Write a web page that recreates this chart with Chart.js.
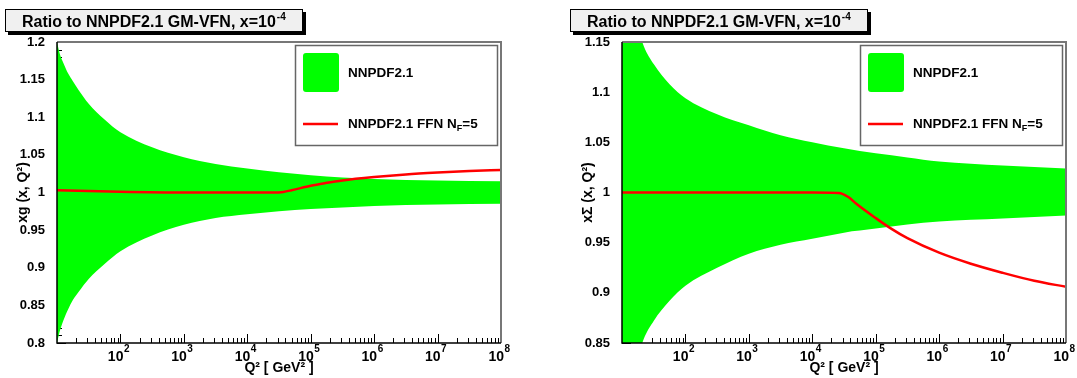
<!DOCTYPE html>
<html>
<head>
<meta charset="utf-8">
<script src="https://cdn.jsdelivr.net/npm/chart.js@4"></script>
<style>
  body { margin: 0; background: #fff; width: 1077px; height: 378px; overflow: hidden; position: relative; }
  canvas { position: absolute; top: 0; }
  #gluonChart { left: 0; }
  #singletChart { left: 565px; }
</style>
</head>
<body>
<canvas id="gluonChart" width="512" height="378"></canvas>
<canvas id="singletChart" width="512" height="378"></canvas>
<script>
// Q^2 grid (GeV^2) of the NNPDF2.1 uncertainty bands
const bandQ2 = [10, 11, 12.6, 15, 17.8, 22, 31.6, 56.2, 100, 316, 1e3, 3.16e3, 1e4, 3.16e4, 1e5, 3.16e5, 1e6, 1e7, 1e8];
const gluonUpper = [1.200, 1.185, 1.172, 1.158, 1.148, 1.136, 1.118, 1.097, 1.080, 1.060, 1.047, 1.038, 1.032, 1.027, 1.023, 1.020, 1.018, 1.016, 1.015];
const gluonLower = [0.800, 0.815, 0.830, 0.845, 0.857, 0.868, 0.885, 0.905, 0.922, 0.943, 0.957, 0.966, 0.971, 0.975, 0.978, 0.980, 0.982, 0.984, 0.985];
const singletUpper = [1.240, 1.225, 1.205, 1.185, 1.165, 1.146, 1.128, 1.108, 1.094, 1.078, 1.067, 1.057, 1.050, 1.044, 1.039, 1.035, 1.031, 1.027, 1.024];
const singletLower = [0.760, 0.775, 0.795, 0.815, 0.835, 0.854, 0.872, 0.892, 0.907, 0.925, 0.939, 0.948, 0.954, 0.960, 0.964, 0.968, 0.971, 0.974, 0.977];

// Q^2 grid of the FFN N_F=5 ratio curves
const ffnQ2 = [10, 100, 1e3, 1e4, 2.6e4, 3.7e4, 5e4, 1e5, 1.7e5, 3.16e5, 1e6, 3.16e6, 1e7, 3.16e7, 1e8];
const gluonFfn = [1.003, 1.001, 1.000, 1.000, 1.000, 1.0008, 1.003, 1.009, 1.0125, 1.016, 1.0205, 1.024, 1.0265, 1.0285, 1.030];
const singletFfn = [1.000, 1.000, 1.000, 1.000, 0.9995, 0.9955, 0.9885, 0.9745, 0.9645, 0.9545, 0.940, 0.929, 0.920, 0.912, 0.906];

// axis ticks
const xTickExponents = [2, 3, 4, 5, 6, 7, 8];
const gluonYTicks = [0.8, 0.85, 0.9, 0.95, 1, 1.05, 1.1, 1.15, 1.2];
const singletYTicks = [0.85, 0.9, 0.95, 1, 1.05, 1.1, 1.15];

const titleText = 'Ratio to NNPDF2.1 GM-VFN, x=10';
const titleExp = '-4';
const bandLabel = 'NNPDF2.1';
const ffnLabel = ['NNPDF2.1 FFN N', 'F', '=5'];

const FONT = '"Liberation Sans", Arial, Helvetica, sans-serif';
const GREEN = '#00ff00';
const RED = '#ff0000';

function pts(xs, ys) {
    return xs.map((x, i) => ({ x: x, y: ys[i] }));
}

// ROOT-like frame, ticks, title box and legend
const rootStyle = {
    id: 'rootStyle',
    beforeDatasetsDraw(chart) {
        const ctx = chart.ctx;
        const a = chart.chartArea;
        const xs = chart.scales.x, ys = chart.scales.y;
        ctx.save();
        ctx.strokeStyle = '#000';
        ctx.lineWidth = 1;
        // x ticks, drawn inside the frame
        for (let k = 1; k < 8; k++) {
            for (let m = 1; m <= 9; m++) {
                const v = m * Math.pow(10, k);
                if (v <= xs.min || v >= xs.max) continue;
                const px = Math.round(xs.getPixelForValue(v)) + 0.5;
                const len = m === 1 ? 9 : 5;
                ctx.beginPath();
                ctx.moveTo(px, a.bottom);
                ctx.lineTo(px, a.bottom - len);
                ctx.stroke();
            }
        }
        // y ticks
        for (let i = Math.round(ys.min * 100); i <= Math.round(ys.max * 100); i++) {
            const py = Math.round(ys.getPixelForValue(i / 100)) + 0.5;
            const len = i % 5 === 0 ? 9 : 5;
            ctx.beginPath();
            ctx.moveTo(a.left, py);
            ctx.lineTo(a.left + len, py);
            ctx.stroke();
        }
        ctx.restore();
    },
    afterDatasetsDraw(chart) {
        const ctx = chart.ctx;
        const a = chart.chartArea;
        ctx.save();
        ctx.lineWidth = 2;
        ctx.strokeStyle = '#777';
        ctx.beginPath();
        ctx.moveTo(a.left, a.top);
        ctx.lineTo(a.right, a.top);
        ctx.lineTo(a.right, a.bottom);
        ctx.stroke();
        ctx.strokeStyle = '#000';
        ctx.lineWidth = 1.5;
        ctx.beginPath();
        ctx.moveTo(a.left, a.top);
        ctx.lineTo(a.left, a.bottom);
        ctx.lineTo(a.right, a.bottom);
        ctx.stroke();
        ctx.restore();
    },
    afterDraw(chart) {
        const ctx = chart.ctx;
        const xs = chart.scales.x;
        ctx.save();
        ctx.fillStyle = '#000';
        ctx.textBaseline = 'alphabetic';

        // x tick labels 10^k
        xTickExponents.forEach(k => {
            const px = xs.getPixelForValue(Math.pow(10, k));
            ctx.font = 'bold 14px ' + FONT;
            const wb = ctx.measureText('10').width;
            ctx.font = 'bold 10px ' + FONT;
            const we = ctx.measureText(String(k)).width;
            const x0 = px - 2 - (wb + we) / 2;
            ctx.font = 'bold 14px ' + FONT;
            ctx.textAlign = 'left';
            ctx.fillText('10', x0, 361);
            ctx.font = 'bold 10px ' + FONT;
            ctx.fillText(String(k), x0 + wb + 0.5, 352);
        });

        // title box with shadow
        ctx.fillStyle = '#000';
        ctx.fillRect(8, 12, 298, 23);
        ctx.fillStyle = '#f0f0f0';
        ctx.fillRect(5, 9, 298, 23);
        ctx.strokeStyle = '#000';
        ctx.lineWidth = 1;
        ctx.strokeRect(5.5, 9.5, 297, 22);
        ctx.fillStyle = '#000';
        ctx.font = 'bold 16px ' + FONT;
        ctx.textAlign = 'left';
        ctx.fillText(titleText, 22, 27);
        const tw = ctx.measureText(titleText).width;
        ctx.font = 'bold 10px ' + FONT;
        ctx.fillText(titleExp, 22 + tw + 1, 20);

        // legend
        const lx = 295, ly = 45, lw = 202, lh = 100;
        ctx.fillStyle = '#fff';
        ctx.fillRect(lx, ly, lw, lh);
        ctx.strokeStyle = '#666';
        ctx.lineWidth = 1.5;
        ctx.strokeRect(lx + 0.5, ly + 0.5, lw, lh);
        ctx.fillStyle = GREEN;
        ctx.beginPath();
        ctx.roundRect(303, 53, 36, 39, 3);
        ctx.fill();
        ctx.strokeStyle = RED;
        ctx.lineWidth = 2.5;
        ctx.beginPath();
        ctx.moveTo(303, 124);
        ctx.lineTo(338, 124);
        ctx.stroke();
        ctx.fillStyle = '#000';
        ctx.font = 'bold 13.5px ' + FONT;
        ctx.textBaseline = 'middle';
        ctx.fillText(bandLabel, 348, 73);
        ctx.fillText(ffnLabel[0], 348, 124);
        let cx = 348 + ctx.measureText(ffnLabel[0]).width;
        ctx.font = 'bold 9px ' + FONT;
        ctx.fillText(ffnLabel[1], cx, 129);
        cx += ctx.measureText(ffnLabel[1]).width;
        ctx.font = 'bold 13.5px ' + FONT;
        ctx.fillText(ffnLabel[2], cx, 124);
        ctx.restore();
    }
};

function makeChart(id, upper, lower, ffn, yTicks, yTitle) {
    const ctx = document.getElementById(id).getContext('2d');
    return new Chart(ctx, {
        type: 'line',
        data: {
            datasets: [{
                label: 'upper',
                data: pts(bandQ2, upper),
                order: 2,
                borderWidth: 0,
                pointRadius: 0,
                backgroundColor: GREEN,
                borderColor: GREEN,
                fill: '+1',
                cubicInterpolationMode: 'monotone'
            }, {
                label: 'lower',
                data: pts(bandQ2, lower),
                order: 3,
                borderWidth: 0,
                pointRadius: 0,
                borderColor: GREEN,
                fill: false,
                cubicInterpolationMode: 'monotone'
            }, {
                label: 'FFN',
                data: pts(ffnQ2, ffn),
                order: 1,
                borderWidth: 2.5,
                pointRadius: 0,
                borderColor: RED,
                fill: false,
                cubicInterpolationMode: 'monotone'
            }]
        },
        options: {
            responsive: false,
            animation: false,
            events: [],
            layout: { padding: { top: 42, right: 11, left: 0, bottom: 0 } },
            plugins: {
                legend: { display: false },
                tooltip: { enabled: false }
            },
            scales: {
                x: {
                    type: 'logarithmic',
                    min: 10,
                    max: 1e8,
                    grid: { display: false },
                    border: { display: false },
                    ticks: { display: false },
                    title: {
                        display: true,
                        text: 'Q² [ GeV² ]',
                        color: '#000',
                        font: { family: FONT, size: 14, weight: 'bold' },
                        padding: { top: 0, bottom: 1 }
                    },
                    afterFit: s => { s.height = 35; }
                },
                y: {
                    min: yTicks[0],
                    max: yTicks[yTicks.length - 1],
                    grid: { display: false },
                    border: { display: false },
                    afterBuildTicks: s => { s.ticks = yTicks.map(v => ({ value: v })); },
                    ticks: {
                        color: '#000',
                        padding: 4,
                        font: { family: FONT, size: 13, weight: 'bold' },
                        callback: v => String(+v.toFixed(2))
                    },
                    title: {
                        display: true,
                        text: yTitle,
                        color: '#000',
                        font: { family: FONT, size: 14, weight: 'bold' },
                        padding: { top: 15, bottom: 0 }
                    },
                    afterFit: s => { s.width = 57; }
                }
            }
        },
        plugins: [rootStyle]
    });
}

makeChart('gluonChart', gluonUpper, gluonLower, gluonFfn, gluonYTicks, 'xg (x, Q²)');
makeChart('singletChart', singletUpper, singletLower, singletFfn, singletYTicks, 'xΣ (x, Q²)');
</script>
</body>
</html>
